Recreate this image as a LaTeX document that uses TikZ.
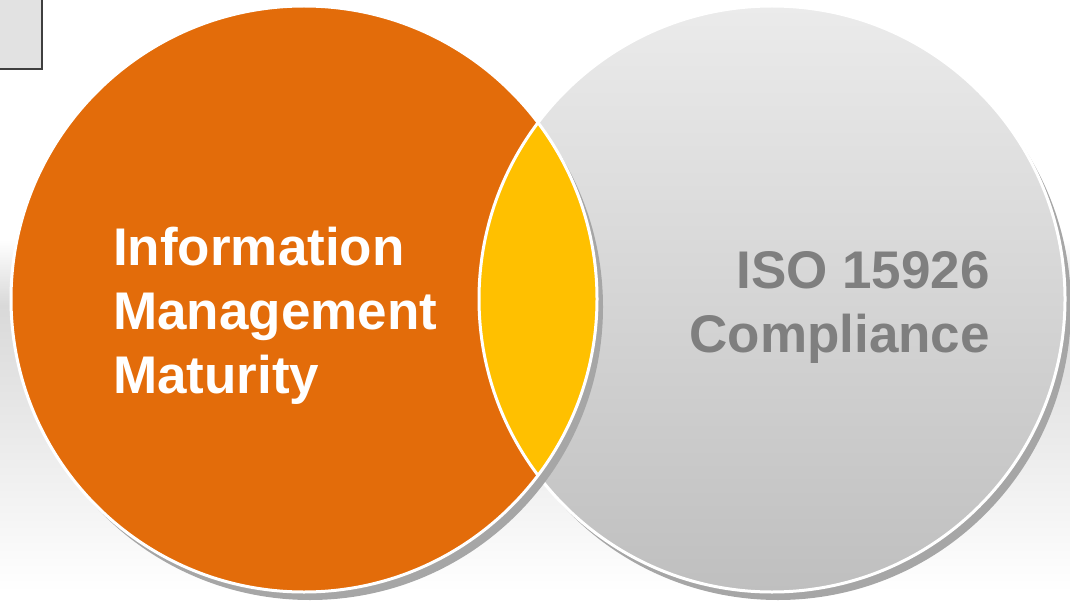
\documentclass[tikz,border=0pt]{standalone}
\usepackage{fontspec}
\setmainfont{Liberation Sans}
\usetikzlibrary{positioning}
\definecolor{immorange}{HTML}{E36C0A}
\definecolor{lensyellow}{HTML}{FFC000}
\definecolor{isotop}{HTML}{EBEBEB}
\definecolor{isobottom}{HTML}{BFBFBF}
\definecolor{isotext}{HTML}{7F7F7F}
\definecolor{shadowgray}{HTML}{A6A6A6}
\definecolor{bggray}{HTML}{D9D9D9}
\definecolor{boxgray}{HTML}{E2E2E2}
\definecolor{boxline}{HTML}{3F3F3F}
\tikzset{
    %Define style for the big circles
    venn/.style={
           draw=white,
           line width=3pt},
    %Define style for the drop shadows
    vennshadow/.style={
           fill=shadowgray},
    %Define style for the labels
    label/.style={
           inner sep=0pt,
           font=\fontsize{53}{64}\selectfont\bfseries}
}
\begin{document}
\begin{tikzpicture}[x=1pt,y=-1pt]
\useasboundingbox (0,0) rectangle (1070,604);
 %background
\fill[top color=white, bottom color=bggray] (0,240) rectangle (1070,305);
\fill[top color=bggray, bottom color=white] (0,305) rectangle (1070,592);
\path[fill=boxgray, draw=boxline, line width=2pt] (-5,-5) rectangle (42,69);
 %circles
\coordinate (imm) at (304,299);
\coordinate (iso) at (772,299);
\fill[vennshadow] ([shift={(6,8)}]iso) circle[radius=293pt];
\path[venn, top color=isotop, bottom color=isobottom] (iso) circle[radius=293pt];
\fill[vennshadow] ([shift={(6,8)}]imm) circle[radius=293pt];
\fill[immorange] (imm) circle[radius=293pt];
\begin{scope}
  \clip (imm) circle[radius=293pt];
  \fill[lensyellow] (iso) circle[radius=293pt];
  \draw[venn] (iso) circle[radius=293pt];
\end{scope}
\draw[venn] (imm) circle[radius=293pt];
 %labels
\node[label, text=white, align=left, anchor=north west] (immlabel) at (113,227)
  {Information\\Management\\Maturity};
\node[label, text=isotext, align=right, anchor=north east] (isolabel) at (990,251)
  {ISO 15926\\Compliance};
\end{tikzpicture}
\end{document}
